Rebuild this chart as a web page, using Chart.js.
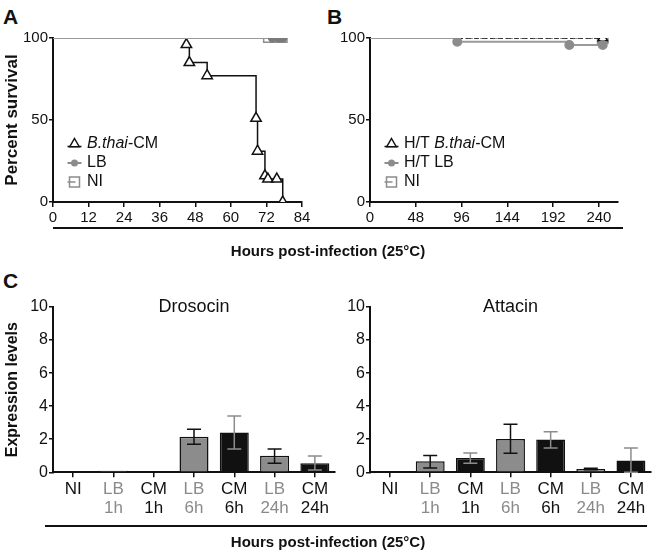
<!DOCTYPE html>
<html>
<head>
<meta charset="utf-8">
<script src="https://cdn.jsdelivr.net/npm/chart.js@4"></script>
<style>
body { margin: 0; background: #fff; width: 656px; height: 555px; position: relative; overflow: hidden;
       font-family: 'Liberation Sans', Arial, sans-serif; color: #111; }
.box { position: absolute; }
.tag { position: absolute; font-weight: bold; font-size: 21px; line-height: 21px; }
.rule { position: absolute; height: 2px; background: #111; }
.xtitle { position: absolute; left: 0; width: 656px; text-align: center; font-weight: bold; font-size: 15px; line-height: 16px; }
</style>
</head>
<body>
<div class="tag" style="left:3px;top:6px">A</div>
<div class="tag" style="left:327px;top:6px">B</div>
<div class="tag" style="left:3px;top:270px">C</div>

<div class="box" style="left:0;top:20px"><canvas id="survA" width="330" height="215"></canvas></div>
<div class="box" style="left:330px;top:20px"><canvas id="survB" width="326" height="215"></canvas></div>
<div class="rule" style="left:53px;top:227px;width:570px"></div>
<div class="xtitle" style="top:243px">Hours post-infection (25°C)</div>

<div class="box" style="left:0;top:290px"><canvas id="droso" width="340" height="236"></canvas></div>
<div class="box" style="left:330px;top:290px"><canvas id="atta" width="326" height="236"></canvas></div>
<div class="rule" style="left:45px;top:525px;width:602px"></div>
<div class="xtitle" style="top:534px">Hours post-infection (25°C)</div>

<script>
// survival, panel A (hours, percent)
const cmHours = [0, 45, 46, 52, 68.5, 69, 71.5, 72.5, 75.5, 77.5];
const cmSurvival = [100, 96, 85, 77, 51, 31, 16, 14, 14, 0];
const lbHours = [0, 74, 76, 77.5];
const lbSurvival = [100, 100, 100, 100];
const niHours = [0, 72.5, 75, 77.5];
const niSurvival = [100, 100, 100, 100];

// survival, panel B (heat treated)
const htCmHours = [0, 244];
const htCmSurvival = [100, 100];
const htLbHours = [0, 91.5, 209, 244];
const htLbSurvival = [100, 97.7, 95.7, 95.7];
const niBHours = [0, 244];
const niBSurvival = [100, 100];

const hoursTicksA = [0, 12, 24, 36, 48, 60, 72, 84];
const hoursTicksB = [0, 48, 96, 144, 192, 240];
const survivalTicks = [0, 50, 100];

// expression, panel C
const conditions = [['NI'], ['LB', '1h'], ['CM', '1h'], ['LB', '6h'], ['CM', '6h'], ['LB', '24h'], ['CM', '24h']];
const drosocin = [0.03, 0.1, 0.08, 2.15, 2.41, 1.0, 0.54];
const drosocinLow = [null, null, null, 1.69, 1.41, 0.54, 0.14];
const drosocinHigh = [null, null, null, 2.6, 3.4, 1.41, 0.99];
const attacin = [0, 0.67, 0.87, 2.02, 1.98, 0.2, 0.71];
const attacinLow = [null, 0.26, 0.55, 1.15, 1.47, 0.16, 0];
const attacinHigh = [null, 1.01, 1.17, 2.91, 2.46, 0.24, 1.47];
const expressionTicks = [0, 2, 4, 6, 8, 10];

const FONT = "'Liberation Sans', Arial, sans-serif";
const INK = '#111';
const GREY = '#8c8c8c';
Chart.defaults.font.family = FONT;
Chart.defaults.color = INK;

function pts(xs, ys) {
    return xs.map(function(x, i) { return {x: x, y: ys[i]}; });
}

function isLB(i) { return conditions[i][0] === 'LB'; }

// draws a small marker for the legend
function marker(ctx, kind, x, y) {
    ctx.save();
    ctx.lineWidth = 1.5;
    if (kind === 'tri') {
        ctx.strokeStyle = INK;
        ctx.beginPath(); ctx.moveTo(x - 7, y + 2.5); ctx.lineTo(x + 7, y + 2.5); ctx.stroke();
        const r = 5.5;
        ctx.beginPath();
        ctx.moveTo(x, y - r);
        ctx.lineTo(x + r * 0.866, y + r / 2);
        ctx.lineTo(x - r * 0.866, y + r / 2);
        ctx.closePath();
        ctx.fillStyle = '#fff'; ctx.fill(); ctx.stroke();
    } else if (kind === 'dot') {
        ctx.strokeStyle = GREY; ctx.lineWidth = 2;
        ctx.beginPath(); ctx.moveTo(x - 7, y); ctx.lineTo(x + 7, y); ctx.stroke();
        ctx.fillStyle = GREY;
        ctx.beginPath(); ctx.arc(x, y, 3.5, 0, Math.PI * 2); ctx.fill();
    } else {
        ctx.strokeStyle = GREY; ctx.lineWidth = 1.5;
        ctx.strokeRect(x - 5, y - 5, 10, 10);
        ctx.beginPath(); ctx.moveTo(x - 7, y); ctx.lineTo(x + 1, y); ctx.stroke();
    }
    ctx.restore();
}

const survivalLegend = {
    id: 'survivalLegend',
    afterDraw(chart, args, opts) {
        const ctx = chart.ctx;
        const a = chart.chartArea;
        ctx.save();
        ctx.textBaseline = 'middle';
        ctx.fillStyle = INK;
        opts.items.forEach(function(item, k) {
            const y = a.top + opts.y + k * 19;
            marker(ctx, item.kind, a.left + opts.x, y);
            let tx = a.left + opts.x + 12.5;
            item.parts.forEach(function(p) {
                ctx.font = (p.i ? 'italic ' : '') + '16px ' + FONT;
                ctx.fillText(p.t, tx, y);
                tx += ctx.measureText(p.t).width;
            });
        });
        ctx.restore();
    }
};

const errorBars = {
    id: 'errorBars',
    afterDatasetsDraw(chart, args, opts) {
        const meta = chart.getDatasetMeta(0);
        const ys = chart.scales.y;
        const ctx = chart.ctx;
        ctx.save();
        ctx.lineWidth = 1.5;
        meta.data.forEach(function(bar, i) {
            if (opts.low[i] == null) return;
            const top = ys.getPixelForValue(opts.high[i]);
            const bot = ys.getPixelForValue(opts.low[i]);
            ctx.strokeStyle = isLB(i) ? INK : GREY;
            ctx.beginPath();
            ctx.moveTo(bar.x, top); ctx.lineTo(bar.x, bot);
            ctx.moveTo(bar.x - 7, top); ctx.lineTo(bar.x + 7, top);
            ctx.moveTo(bar.x - 7, bot); ctx.lineTo(bar.x + 7, bot);
            ctx.stroke();
        });
        ctx.restore();
    }
};

const geneTitle = {
    id: 'geneTitle',
    afterDraw(chart, args, opts) {
        const ctx = chart.ctx;
        const a = chart.chartArea;
        ctx.save();
        ctx.font = '18px ' + FONT;
        ctx.fillStyle = INK;
        ctx.textAlign = 'center';
        ctx.textBaseline = 'middle';
        ctx.fillText(opts.text, (a.left + a.right) / 2, chart.scales.y.getPixelForValue(10));
        ctx.restore();
    }
};

function frameAxis(extra) {
    return Object.assign({
        border: {display: true, color: INK, width: 2},
        grid: {drawOnChartArea: false, color: INK, lineWidth: 1.5, tickLength: 5}
    }, extra);
}

function survivalChart(id, sets, xMax, xTicks, yWidth, padRight, yTitle, legend) {
    new Chart(document.getElementById(id), {
        type: 'line',
        data: {datasets: sets},
        options: {
            responsive: false,
            animation: false,
            layout: {padding: {top: 18, right: padRight, left: 0, bottom: 0}, autoPadding: false},
            scales: {
                x: frameAxis({
                    type: 'linear', min: 0, max: xMax,
                    afterBuildTicks: function(s) { s.ticks = xTicks.map(function(v) { return {value: v}; }); },
                    ticks: {font: {size: 15}, color: INK, padding: 2, maxRotation: 0, autoSkip: false},
                    afterFit: function(s) { s.height = 33; }
                }),
                y: frameAxis({
                    min: 0, max: 100,
                    grid: {drawOnChartArea: false, color: INK, lineWidth: 1.5, tickLength: 4},
                    afterBuildTicks: function(s) { s.ticks = survivalTicks.map(function(v) { return {value: v}; }); },
                    ticks: {font: {size: 15}, color: INK, padding: 1},
                    title: {display: !!yTitle, text: yTitle, font: {size: 17, weight: 'bold'}, color: INK, padding: {top: 2, bottom: 0}},
                    afterFit: function(s) { s.width = yWidth; }
                })
            },
            plugins: {legend: {display: false}, tooltip: {enabled: false}, survivalLegend: legend}
        },
        plugins: [survivalLegend]
    });
}

const edge0 = function(n) { return function(ctx) { return ctx.dataIndex === 0 ? 0 : n; }; };

survivalChart('survA', [
    {data: pts(lbHours, lbSurvival), stepped: true, borderColor: '#9a9a9a', borderWidth: 2, borderDash: [3, 2],
     pointStyle: 'circle', pointRadius: edge0(3.5), pointBackgroundColor: '#7a7a7a', pointBorderColor: '#7a7a7a'},
    {data: pts(niHours, niSurvival), stepped: true, borderColor: '#9a9a9a', borderWidth: 2,
     pointStyle: 'rect', pointRadius: edge0(6), pointBackgroundColor: 'transparent', pointBorderColor: GREY, pointBorderWidth: 1.5},
    {data: pts(cmHours, cmSurvival), stepped: true, borderColor: INK, borderWidth: 1.5,
     pointStyle: 'triangle', pointRadius: edge0(6), pointBackgroundColor: '#fff', pointBorderColor: INK, pointBorderWidth: 1.5}
], 84, hoursTicksA, 53, 28, 'Percent survival', {
    x: 21.5, y: 106,
    items: [
        {kind: 'tri', parts: [{t: 'B.thai', i: true}, {t: '-CM'}]},
        {kind: 'dot', parts: [{t: 'LB'}]},
        {kind: 'sq', parts: [{t: 'NI'}]}
    ]
});

survivalChart('survB', [
    {data: pts(htLbHours, htLbSurvival), stepped: true, borderColor: '#9a9a9a', borderWidth: 2,
     pointStyle: 'circle', pointRadius: edge0(4), pointBackgroundColor: GREY, pointBorderColor: GREY},
    {data: pts(htCmHours, htCmSurvival), stepped: true, borderColor: INK, borderWidth: 1.5, borderDash: [5, 3],
     pointStyle: 'triangle', pointRadius: edge0(5.5), pointBackgroundColor: '#fff', pointBorderColor: INK, pointBorderWidth: 1.5},
    {data: pts(niBHours, niBSurvival), stepped: true, borderColor: '#9a9a9a', borderWidth: 2, borderDash: [3, 2],
     pointStyle: 'rect', pointRadius: edge0(7), pointBackgroundColor: 'transparent', pointBorderColor: GREY, pointBorderWidth: 2}
], 260, hoursTicksB, 40, 38, '', {
    x: 21.5, y: 106,
    items: [
        {kind: 'tri', parts: [{t: 'H/T '}, {t: 'B.thai', i: true}, {t: '-CM'}]},
        {kind: 'dot', parts: [{t: 'H/T LB'}]},
        {kind: 'sq', parts: [{t: 'NI'}]}
    ]
});

function expressionChart(id, values, low, high, name, yWidth, yTitle) {
    new Chart(document.getElementById(id), {
        type: 'bar',
        data: {
            labels: conditions,
            datasets: [{
                data: values,
                backgroundColor: conditions.map(function(c, i) { return isLB(i) ? GREY : INK; }),
                borderColor: INK,
                borderWidth: 1.5,
                borderSkipped: 'bottom',
                barPercentage: 0.72,
                categoryPercentage: 1
            }]
        },
        options: {
            responsive: false,
            animation: false,
            layout: {padding: {top: 17, right: 5, left: 0, bottom: 0}, autoPadding: false},
            scales: {
                x: frameAxis({
                    grid: {drawOnChartArea: false, color: INK, lineWidth: 1.5, tickLength: 5, offset: false},
                    ticks: {font: {size: 17, lineHeight: 1.08}, padding: 3, maxRotation: 0, autoSkip: false,
                            color: function(c) { return isLB(c.index) ? '#8a8a8a' : INK; }},
                    afterFit: function(s) { s.height = 53.7; }
                }),
                y: frameAxis({
                    min: 0, max: 10,
                    grid: {drawOnChartArea: false, color: INK, lineWidth: 1.5, tickLength: 4},
                    afterBuildTicks: function(s) { s.ticks = expressionTicks.map(function(v) { return {value: v}; }); },
                    ticks: {font: {size: 16}, color: INK, padding: 1},
                    title: {display: !!yTitle, text: yTitle, font: {size: 16, weight: 'bold'}, color: INK, padding: {top: 3, bottom: 0}},
                    afterFit: function(s) { s.width = yWidth; }
                })
            },
            plugins: {
                legend: {display: false}, tooltip: {enabled: false},
                errorBars: {low: low, high: high},
                geneTitle: {text: name}
            }
        },
        plugins: [errorBars, geneTitle]
    });
}

expressionChart('droso', drosocin, drosocinLow, drosocinHigh, 'Drosocin', 53, 'Expression levels');
expressionChart('atta', attacin, attacinLow, attacinHigh, 'Attacin', 40, '');
</script>
</body>
</html>
